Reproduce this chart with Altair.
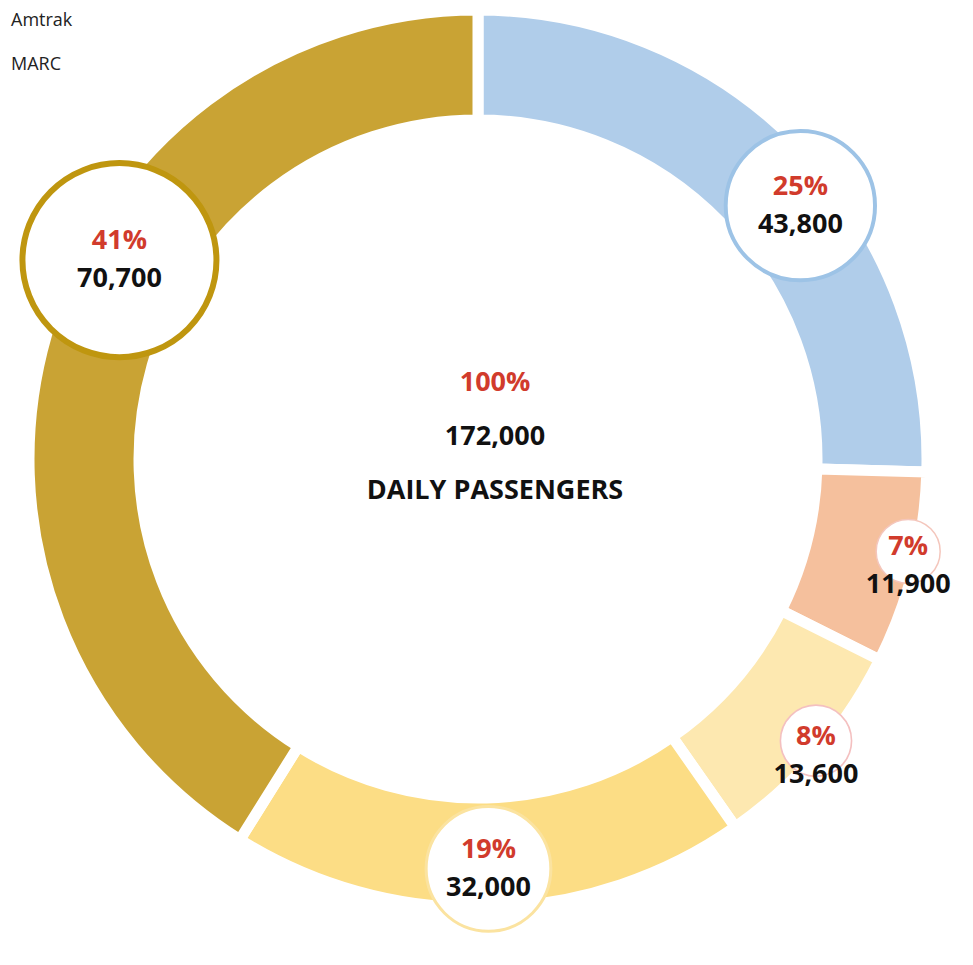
import altair as alt
import numpy as np
import pandas as pd

# ---------------- data ----------------
segment_ids = ["blue", "peach", "pale_yellow", "yellow", "gold"]
passengers = [43800, 11900, 13600, 32000, 70700]
percent_labels = ["25%", "7%", "8%", "19%", "41%"]
passenger_labels = ["43,800", "11,900", "13,600", "32,000", "70,700"]
center_percent = ["100%"]
center_total = ["172,000"]
center_caption = ["DAILY PASSENGERS"]
legend_labels = ["Amtrak", "MARC"]

# ---------------- style ----------------
fill_colors = ["#B0CDEA", "#F5C09D", "#FDE8B0", "#FCDD85", "#C9A334"]
ring_colors = ["#9DC3E6", "#F4C6BC", "#F4C0C0", "#FBE3A0", "#BF960F"]
label_nudge_deg = [6, -2, -1, 0, 13]   # small angular nudges of the label bubbles
PCT_RED = "#D13B2C"
TEXT = "#111111"
FONT = "Open Sans"

W, H = 940, 902
R_OUT, R_IN = 449, 339
GAP = 11

df = pd.DataFrame({
    "segment": segment_ids,
    "passengers": passengers,
    "pct": percent_labels,
    "num": passenger_labels,
})
df["order"] = np.arange(len(df))
total = df["passengers"].sum()
mid_angle = (df["passengers"].cumsum() - df["passengers"] / 2) / total * 2 * np.pi
mid_angle = mid_angle + np.radians(label_nudge_deg)
df["small"] = df["passengers"] < 0.1 * total
label_r = np.where(df["small"], 440, 410)
df["lx"] = label_r * np.sin(mid_angle)
df["ly"] = label_r * np.cos(mid_angle)

xs = alt.Scale(domain=[-W / 2, W / 2], nice=False, zero=False)
ys = alt.Scale(domain=[-H / 2, H / 2], nice=False, zero=False)
X = alt.X("lx:Q", scale=xs, axis=None)
Y = alt.Y("ly:Q", scale=ys, axis=None)

base = alt.Chart(df)

arcs = base.mark_arc(radius=R_OUT, radius2=R_IN, stroke="white", strokeWidth=GAP).encode(
    theta=alt.Theta("passengers:Q", stack=True),
    order=alt.Order("order:Q"),
    color=alt.Color("segment:N", scale=alt.Scale(domain=segment_ids, range=fill_colors), legend=None),
)

vmin, vmax = min(passengers), max(passengers)
circles = base.mark_circle(fill="white", opacity=1, fillOpacity=1).encode(
    x=X, y=Y,
    size=alt.Size("passengers:Q", scale=alt.Scale(domain=[vmin, vmax], range=[64 ** 2, 194 ** 2]), legend=None),
    stroke=alt.Stroke("segment:N", scale=alt.Scale(domain=segment_ids, range=ring_colors), legend=None),
    strokeWidth=alt.StrokeWidth("passengers:Q", scale=alt.Scale(domain=[vmin, vmax], range=[1.5, 6]), legend=None),
)

txt = dict(font=FONT, fontWeight="bold", fontSize=27, align="center", baseline="middle")
pct_big = base.transform_filter("!datum.small").mark_text(color=PCT_RED, dy=-19, **txt).encode(x=X, y=Y, text="pct:N")
num_big = base.transform_filter("!datum.small").mark_text(color=TEXT, dy=19, **txt).encode(x=X, y=Y, text="num:N")
pct_small = base.transform_filter("datum.small").mark_text(color=PCT_RED, dy=-4, **txt).encode(x=X, y=Y, text="pct:N")
num_small = base.transform_filter("datum.small").mark_text(color=TEXT, dy=34, **txt).encode(x=X, y=Y, text="num:N")

cdf = pd.DataFrame({"lx": [0.0], "ly": [0.0], "p": center_percent, "t": center_total, "c": center_caption})
cbase = alt.Chart(cdf)
c1 = cbase.mark_text(color=PCT_RED, dx=17, dy=-76, **txt).encode(x=X, y=Y, text="p:N")
c2 = cbase.mark_text(color=TEXT, dx=17, dy=-22, **txt).encode(x=X, y=Y, text="t:N")
c3 = cbase.mark_text(color=TEXT, dx=17, dy=32, **txt).encode(x=X, y=Y, text="c:N")

# legend entries (their swatches sit off the left edge in the reference)
leg_style = dict(font=FONT, fontSize=18, color="#222222", align="left", baseline="top")
leg1 = alt.Chart(pd.DataFrame({"name": [legend_labels[0]]})).mark_text(**leg_style).encode(
    x=alt.value(3), y=alt.value(4), text="name:N")
leg2 = alt.Chart(pd.DataFrame({"name": [legend_labels[1]]})).mark_text(**leg_style).encode(
    x=alt.value(3), y=alt.value(48), text="name:N")

chart = alt.layer(
    arcs, circles, pct_big, num_big, pct_small, num_small, c1, c2, c3, leg1, leg2
).properties(
    width=W, height=H,
    autosize=alt.AutoSizeParams(type="none"),
    padding={"left": 0, "top": 0, "right": 17, "bottom": 47},
    background="white",
).configure_view(stroke=None)

chart.save("out.html", embed_options={"renderer": "svg", "actions": False})
